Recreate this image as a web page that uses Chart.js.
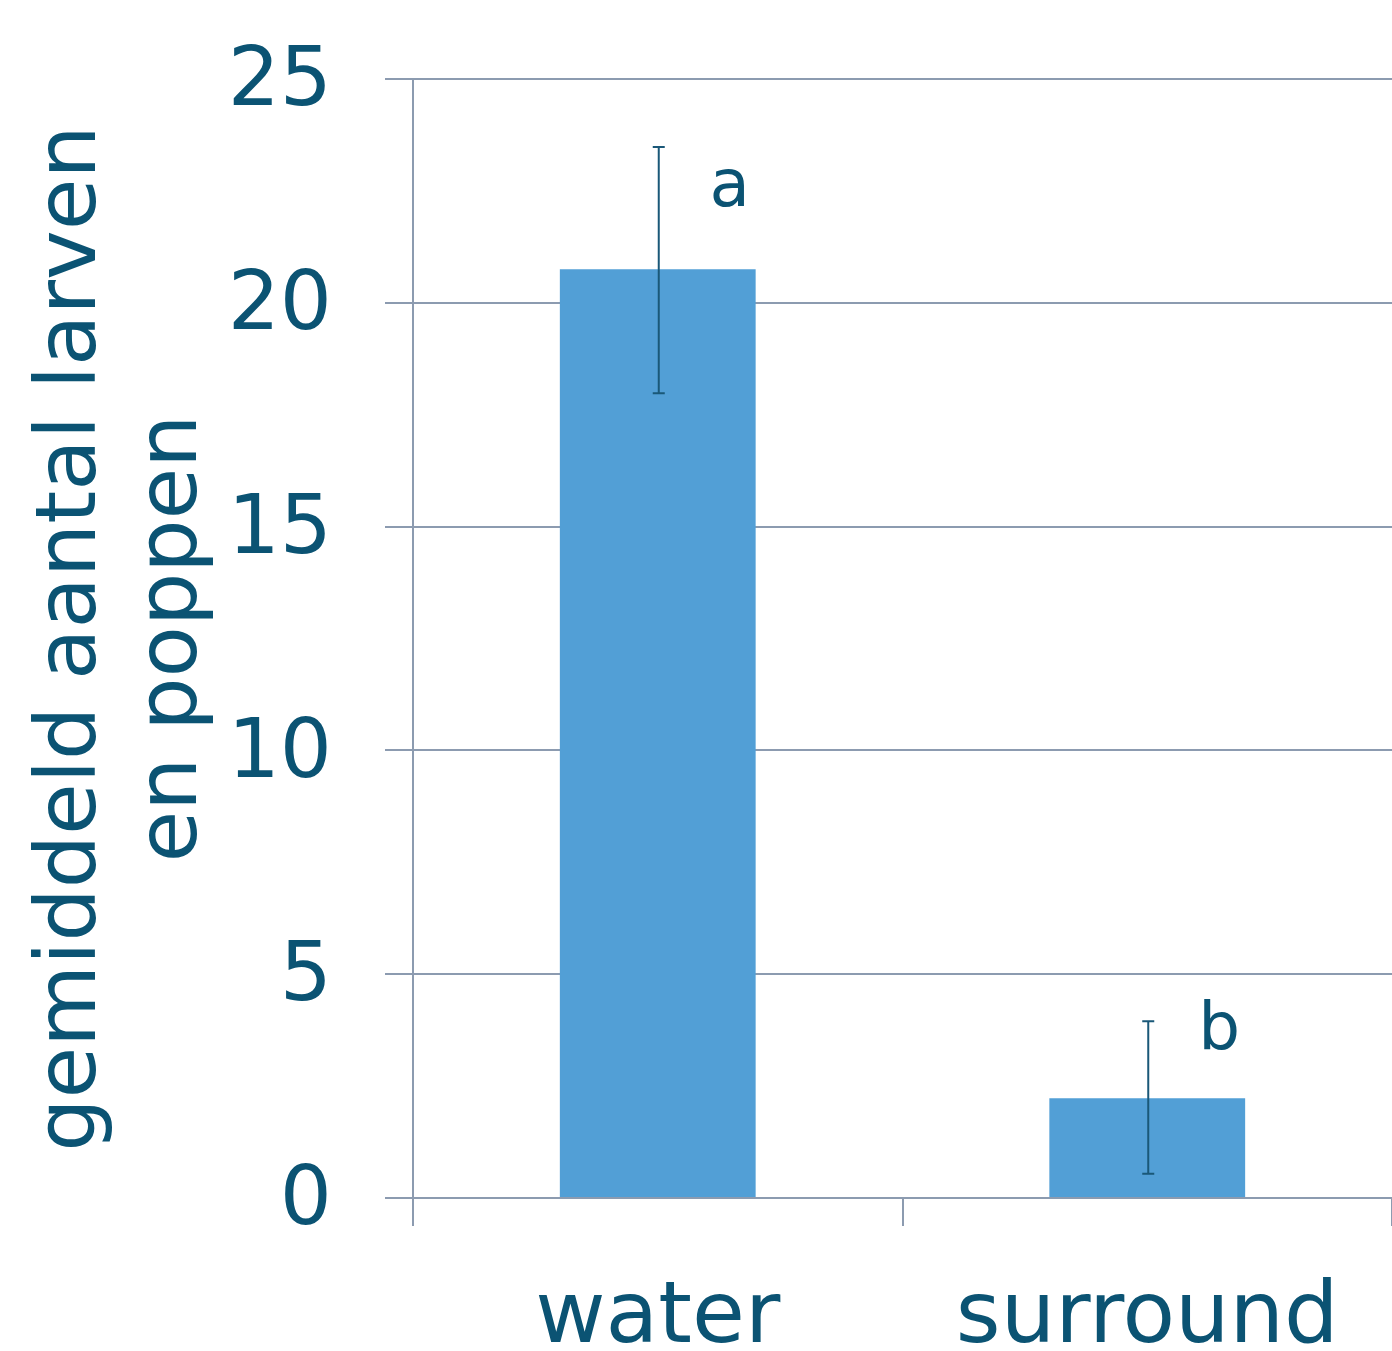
<!DOCTYPE html>
<html>
<head>
<meta charset="utf-8">
<script src="https://cdn.jsdelivr.net/npm/chart.js@4.4.1/dist/chart.umd.min.js"></script>
<style>
  html, body { margin: 0; padding: 0; background: #ffffff; }
  #wrap { width: 1392px; height: 1351px; }
</style>
</head>
<body>
<div id="wrap"><canvas id="chart" width="1392" height="1351"></canvas></div>
<script>
// data gelezen uit de figuur
const categories = ["water", "surround"];
const means = [20.75, 2.23];
const errLow = [17.98, 0.54];
const errHigh = [23.48, 3.95];
const sigLetters = ["a", "b"];
const sigAt = [22.55, 3.72];
const yTicks = [0, 5, 10, 15, 20, 25];

const textColor = "#0b5373";
const gridColor = "#8c9bb0";
const barColor = "#529fd6";
const fontFam = "'DejaVu Sans', Verdana, sans-serif";

// foutbalken + letters
const errorBars = {
  id: "errorBars",
  afterDatasetsDraw(chart) {
    const ctx = chart.ctx;
    const x = chart.scales.x;
    const y = chart.scales.y;
    ctx.save();
    ctx.strokeStyle = "#1a5878";
    ctx.lineWidth = 2;
    categories.forEach((c, i) => {
      const cx = x.getPixelForValue(i) + 1;
      const yl = y.getPixelForValue(errLow[i]);
      const yh = y.getPixelForValue(errHigh[i]);
      ctx.beginPath();
      ctx.moveTo(cx, yl); ctx.lineTo(cx, yh);
      ctx.moveTo(cx - 6, yl); ctx.lineTo(cx + 6, yl);
      ctx.moveTo(cx - 6, yh); ctx.lineTo(cx + 6, yh);
      ctx.stroke();

      ctx.fillStyle = textColor;
      ctx.font = "66px " + fontFam;
      ctx.textAlign = "center";
      ctx.textBaseline = "middle";
      ctx.fillText(sigLetters[i], cx + 71, y.getPixelForValue(sigAt[i]));
    });
    ctx.restore();
  },
};

const ctx = document.getElementById("chart").getContext("2d");
new Chart(ctx, {
  type: "bar",
  data: {
    labels: categories,
    datasets: [
      {
        data: means,
        backgroundColor: barColor,
        borderWidth: 0,
        categoryPercentage: 1,
        barPercentage: 0.4,
      },
    ],
  },
  options: {
    responsive: false,
    devicePixelRatio: 1,
    animation: false,
    layout: { padding: { top: 79, right: 0, left: 0, bottom: 0 } },
    plugins: { legend: { display: false }, tooltip: { enabled: false } },
    scales: {
      x: {
        offset: true,
        grid: {
          offset: true,
          drawOnChartArea: false,
          drawTicks: true,
          tickLength: 28,
          color: (c) => (c.index === categories.length ? "rgba(0,0,0,0)" : gridColor),
          lineWidth: 2,
        },
        border: { display: false },
        ticks: { color: textColor, font: { family: fontFam, size: 86 }, padding: 42 },
        afterFit: (s) => { s.height = 153; },
      },
      y: {
        min: 0,
        max: 25,
        afterBuildTicks: (s) => { s.ticks = yTicks.map((v) => ({ value: v })); },
        grid: { color: gridColor, lineWidth: 2, tickLength: 28 },
        border: { color: gridColor, width: 2 },
        ticks: { color: textColor, font: { family: fontFam, size: 82, lineHeight: 0.5 }, padding: 53, labelOffset: 5 },
        title: {
          display: true,
          text: ["gemiddeld aantal larven", "en poppen"],
          color: textColor,
          font: { family: fontFam, size: 84, lineHeight: 1.2 },
          padding: { top: 23, bottom: 0 },
        },
        afterFit: (s) => { s.width = 413; s.paddingTop = 0; s.paddingBottom = 0; },
      },
    },
  },
  plugins: [errorBars],
});
</script>
</body>
</html>
